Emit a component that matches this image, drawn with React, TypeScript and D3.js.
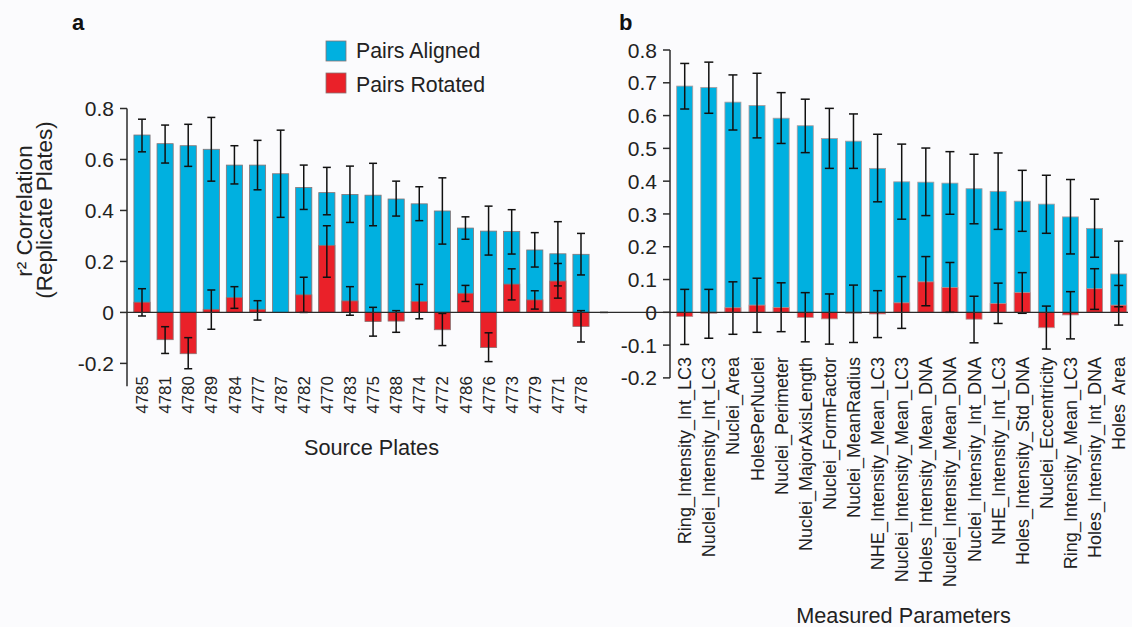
import React from "react";
import * as d3 from "d3";

const plates = ["4785","4781","4780","4789","4784","4777","4787","4782","4770","4783","4775","4788","4774","4772","4786","4776","4773","4779","4771","4778"];
const alignedA = [0.696,0.662,0.654,0.640,0.578,0.578,0.544,0.490,0.470,0.463,0.460,0.445,0.426,0.398,0.331,0.319,0.318,0.245,0.230,0.228];
const alignedAHi = [0.758,0.735,0.738,0.765,0.654,0.675,0.715,0.578,0.569,0.574,0.585,0.515,0.493,0.528,0.375,0.417,0.403,0.313,0.356,0.310];
const alignedALo = [0.630,0.586,0.573,0.515,0.504,0.481,0.373,0.404,0.383,0.353,0.340,0.378,0.360,0.268,0.287,0.225,0.229,0.178,0.104,0.147];
const rotatedA = [0.040,-0.107,-0.162,0.012,0.058,0.012,0,0.069,0.263,0.045,-0.036,-0.034,0.043,-0.068,0.075,-0.138,0.111,0.049,0.123,-0.055];
const rotatedAHi: (number | null)[] = [0.093,-0.056,-0.099,0.088,0.101,0.046,null,0.138,0.340,0.101,0.020,0.007,0.110,-0.004,0.106,-0.080,0.171,0.085,0.192,0.007];
const rotatedALo: (number | null)[] = [-0.014,-0.161,-0.221,-0.066,0.016,-0.030,null,0.000,0.138,-0.011,-0.093,-0.078,-0.025,-0.130,0.043,-0.193,0.049,0.013,0.056,-0.116];
const ticksA = ["-0.2","0","0.2","0.4","0.6","0.8"];

const params = ["Ring_Intensity_Int_LC3","Nuclei_Intensity_Int_LC3","Nuclei_Area","HolesPerNuclei","Nuclei_Perimeter","Nuclei_MajorAxisLength","Nuclei_FormFactor","Nuclei_MeanRadius","NHE_Intensity_Mean_LC3","Nuclei_Intensity_Mean_LC3","Holes_Intensity_Mean_DNA","Nuclei_Intensity_Mean_DNA","Nuclei_Intensity_Int_DNA","NHE_Intensity_Int_LC3","Holes_Intensity_Std_DNA","Nuclei_Eccentricity","Ring_Intensity_Mean_LC3","Holes_Intensity_Int_DNA","Holes  Area"];
const alignedB = [0.690,0.686,0.641,0.631,0.592,0.569,0.530,0.522,0.439,0.398,0.397,0.394,0.377,0.369,0.339,0.330,0.291,0.256,0.117];
const alignedBHi = [0.759,0.763,0.724,0.729,0.670,0.650,0.622,0.605,0.543,0.513,0.501,0.490,0.482,0.486,0.433,0.418,0.405,0.345,0.217];
const alignedBLo = [0.620,0.607,0.556,0.532,0.515,0.487,0.439,0.439,0.337,0.284,0.295,0.299,0.270,0.253,0.247,0.241,0.178,0.168,0.017];
const rotatedB = [-0.013,-0.003,0.014,0.022,0.015,-0.016,-0.020,-0.003,-0.005,0.029,0.093,0.076,-0.021,0.027,0.060,-0.047,-0.008,0.072,0.022];
const rotatedBHi = [0.070,0.070,0.093,0.104,0.090,0.060,0.056,0.083,0.066,0.109,0.170,0.152,0.049,0.089,0.121,0.019,0.063,0.133,0.082];
const rotatedBLo = [-0.098,-0.079,-0.067,-0.061,-0.059,-0.090,-0.097,-0.092,-0.077,-0.049,0.020,0.000,-0.093,-0.034,-0.003,-0.112,-0.081,0.009,-0.039];
const ticksB = ["-0.2","-0.1","0","0.1","0.2","0.3","0.4","0.5","0.6","0.7","0.8"];

const legendLabels = ["Pairs Aligned", "Pairs Rotated"];

const BLUE = "#00b0e0";
const RED = "#ea2129";
const FONT = "'Liberation Sans', Arial, Helvetica, sans-serif";
const AXIS = "#2b2b2b";

type PanelProps = {
  cats: string[];
  al: number[]; alHi: number[]; alLo: number[];
  ro: number[]; roHi: (number | null)[]; roLo: (number | null)[];
  x: d3.ScaleBand<string>;
  y: d3.ScaleLinear<number, number>;
  ticks: string[];
  axisX: number;
  axisBottom: number;
  labelY: number;
  labelSize: number;
  cap: number;
  barStroke: string;
};

function Panel(p: PanelProps) {
  const bw = p.x.bandwidth();
  const y0 = p.y(0);
  return (
    <g>
      {p.cats.map((c, i) => {
        const x0 = p.x(c)!;
        return (
          <rect key={"a" + i} x={x0} width={bw} y={p.y(p.al[i])} height={y0 - p.y(p.al[i])}
            fill={BLUE} stroke={p.barStroke} strokeWidth={0.8} />
        );
      })}
      {p.cats.map((c, i) => {
        const x0 = p.x(c)!;
        const v = p.ro[i];
        if (v === 0) return null;
        const yy = Math.min(p.y(v), y0);
        return (
          <rect key={"r" + i} x={x0} width={bw} y={yy} height={Math.abs(y0 - p.y(v))}
            fill={RED} stroke={p.barStroke} strokeWidth={0.8} />
        );
      })}
      {p.cats.map((c, i) => {
        const cx = p.x(c)! + bw / 2;
        const items: JSX.Element[] = [];
        const draw = (lo: number, hi: number, k: string) => {
          items.push(
            <g key={k} stroke="#111" strokeWidth={1.5}>
              <line x1={cx} x2={cx} y1={p.y(hi)} y2={p.y(lo)} />
              <line x1={cx - p.cap / 2} x2={cx + p.cap / 2} y1={p.y(hi)} y2={p.y(hi)} />
              <line x1={cx - p.cap / 2} x2={cx + p.cap / 2} y1={p.y(lo)} y2={p.y(lo)} />
            </g>
          );
        };
        draw(p.alLo[i], p.alHi[i], "ea" + i);
        const rl = p.roLo[i], rh = p.roHi[i];
        if (rl !== null && rh !== null) draw(rl, rh, "er" + i);
        return <g key={"e" + i}>{items}</g>;
      })}
      <line x1={p.axisX} x2={p.axisX} y1={p.y(0.8)} y2={p.axisBottom} stroke={AXIS} strokeWidth={1.5} />
      {p.ticks.map((t) => {
        const v = +t;
        return (
          <g key={"t" + t}>
            <line x1={p.axisX - 7} x2={p.axisX} y1={p.y(v)} y2={p.y(v)} stroke={AXIS} strokeWidth={1.5} />
            <text x={p.axisX - 13} y={p.y(v)} dy="0.36em" textAnchor="end" fontSize={21}
              fill="#222" fontFamily={FONT}>{t}</text>
          </g>
        );
      })}
      {p.cats.map((c, i) => {
        const cx = p.x(c)! + bw / 2;
        return (
          <text key={"l" + i} transform={`translate(${cx},${p.labelY}) rotate(-90)`} dy="0.36em"
            textAnchor="end" fontSize={p.labelSize} fill="#222" fontFamily={FONT}
            style={{ whiteSpace: "pre" }}>{c}</text>
        );
      })}
    </g>
  );
}

export default function App() {
  const xA = d3.scaleBand<string>().domain(plates).range([130.45, 592.55]).paddingInner(0.3).paddingOuter(0.15);
  const yA = d3.scaleLinear().domain([-0.2, 0.8]).range([363.4, 108.5]);
  const xB = d3.scaleBand<string>().domain(params).range([672.65, 1130.75]).paddingInner(0.335).paddingOuter(0.1675);
  const yB = d3.scaleLinear().domain([-0.2, 0.8]).range([377.9, 50]);

  return (
    <svg width={1132} height={627} style={{ position: "absolute", left: 0, top: 0, background: "#fbfbfd" }}
      fontFamily={FONT}>
      <rect x={0} y={0} width={1132} height={627} fill="#fbfbfd" />
      <Panel cats={plates} al={alignedA} alHi={alignedAHi} alLo={alignedALo}
        ro={rotatedA} roHi={rotatedAHi} roLo={rotatedALo} x={xA} y={yA} ticks={ticksA}
        axisX={127} axisBottom={yA(-0.29)} labelY={376} labelSize={17} cap={8} barStroke="#8a7474" />
      <Panel cats={params} al={alignedB} alHi={alignedBHi} alLo={alignedBLo}
        ro={rotatedB} roHi={rotatedBHi} roLo={rotatedBLo} x={xB} y={yB} ticks={ticksB}
        axisX={670} axisBottom={yB(-0.2)} labelY={357} labelSize={18} cap={9} barStroke="#b09a9a" />
      <line x1={127} x2={1128} y1={yA(0)} y2={yA(0)} stroke={AXIS} strokeWidth={1.3} />
      <line x1={600} x2={608} y1={yA(0)} y2={yA(0)} stroke={AXIS} strokeWidth={1.5} />

      <text x={72} y={30} fontSize={22} fontWeight="bold" fill="#111">a</text>
      <text x={619} y={30} fontSize={22} fontWeight="bold" fill="#111">b</text>

      {legendLabels.map((l, i) => (
        <g key={l}>
          <rect x={326} y={41 + i * 32} width={20} height={20} fill={i === 0 ? BLUE : RED}
            stroke="#8a7474" strokeWidth={0.8} />
          <text x={356} y={57.5 + i * 34} fontSize={21.3} fill="#222">{l}</text>
        </g>
      ))}

      <text transform="translate(31.7,211) rotate(-90)" textAnchor="middle" fontSize={22.5} fill="#222">r² Correlation</text>
      <text transform="translate(51.7,210) rotate(-90)" textAnchor="middle" fontSize={22.5} fill="#222">(Replicate Plates)</text>

      <text x={371.5} y={455} textAnchor="middle" fontSize={21.7} fill="#222">Source Plates</text>
      <text x={903.5} y={623} textAnchor="middle" fontSize={21.7} fill="#222">Measured Parameters</text>
    </svg>
  );
}
